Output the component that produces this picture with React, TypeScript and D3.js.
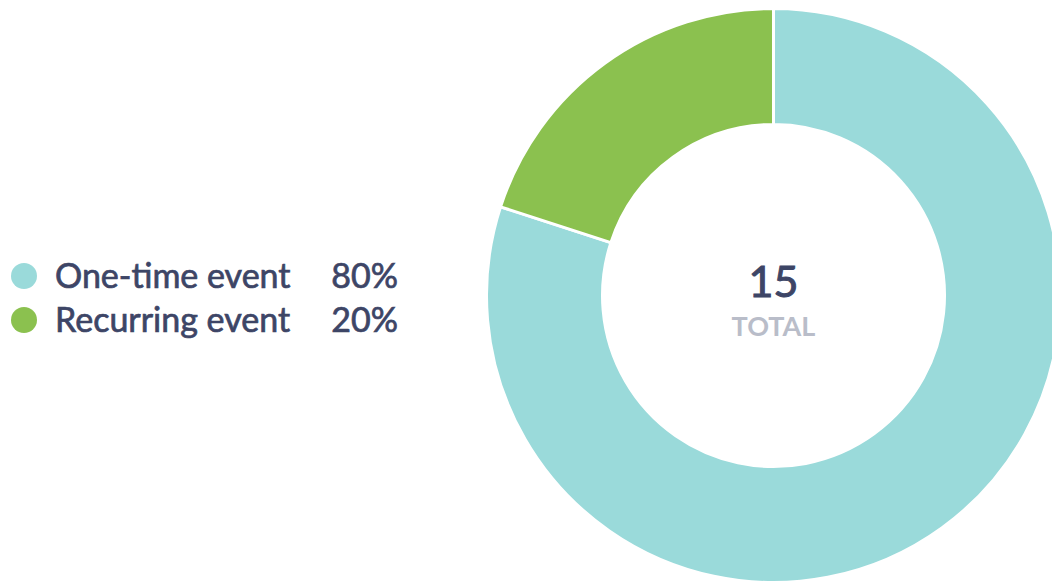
import React, { useEffect, useRef } from "react";
import * as d3 from "d3";

const categories = ["One-time event", "Recurring event"];
const values = [12, 3];
const colors = ["#9adada", "#8bc14f"];

const App = () => {
  const ref = useRef<SVGSVGElement>(null);

  useEffect(() => {
    const svg = d3.select(ref.current);
    svg.selectAll("*").remove();

    const width = 1052;
    const height = 585;
    const cx = 773.5;
    const cy = 295.5;
    const outer = 287;
    const inner = 171;
    const total = d3.sum(values);
    const font = "Lato, 'Open Sans', sans-serif";
    const textColor = "#3d4566";

    svg.attr("width", width).attr("height", height);

    const data = categories.map((name, i) => ({ name, value: values[i], color: colors[i] }));

    const pie = d3
      .pie<any>()
      .value((d) => d.value)
      .sort(null);

    const arc = d3.arc<any>().innerRadius(inner).outerRadius(outer);

    const g = svg.append("g").attr("transform", `translate(${cx},${cy})`);

    g.selectAll("path")
      .data(pie(data))
      .enter()
      .append("path")
      .attr("d", arc)
      .style("fill", (d) => d.data.color)
      .style("stroke", "#fff")
      .style("stroke-width", 3);

    g.append("text")
      .attr("text-anchor", "middle")
      .attr("y", 1.5)
      .style("font-family", font)
      .style("font-size", "43px")
      .style("fill", textColor)
      .style("stroke", textColor)
      .style("stroke-width", 1)
      .text(total);

    g.append("text")
      .attr("text-anchor", "middle")
      .attr("y", 40)
      .style("font-family", font)
      .style("font-size", "27px")
      .style("font-weight", "bold")
      .style("fill", "#b9bdc9")
      .text("TOTAL");

    // legend
    const legend = svg
      .selectAll(".legend")
      .data(data)
      .enter()
      .append("g")
      .attr("class", "legend")
      .attr("transform", (d, i) => `translate(0,${276 + i * 44})`);

    legend
      .append("circle")
      .attr("cx", 24)
      .attr("cy", 0)
      .attr("r", 13)
      .style("fill", (d) => d.color);

    legend
      .append("text")
      .attr("x", 55)
      .attr("y", 12)
      .style("font-family", font)
      .style("font-size", "34px")
      .style("fill", textColor)
      .style("stroke", textColor)
      .style("stroke-width", 0.7)
      .text((d) => d.name);

    legend
      .append("text")
      .attr("x", 398)
      .attr("y", 12)
      .attr("text-anchor", "end")
      .style("font-family", font)
      .style("font-size", "34px")
      .style("fill", textColor)
      .style("stroke", textColor)
      .style("stroke-width", 0.7)
      .text((d) => `${Math.round((d.value / total) * 100)}%`);
  }, []);

  return (
    <svg
      ref={ref}
      style={{ position: "absolute", left: 0, top: 0, display: "block" }}
    />
  );
};

export default App;
